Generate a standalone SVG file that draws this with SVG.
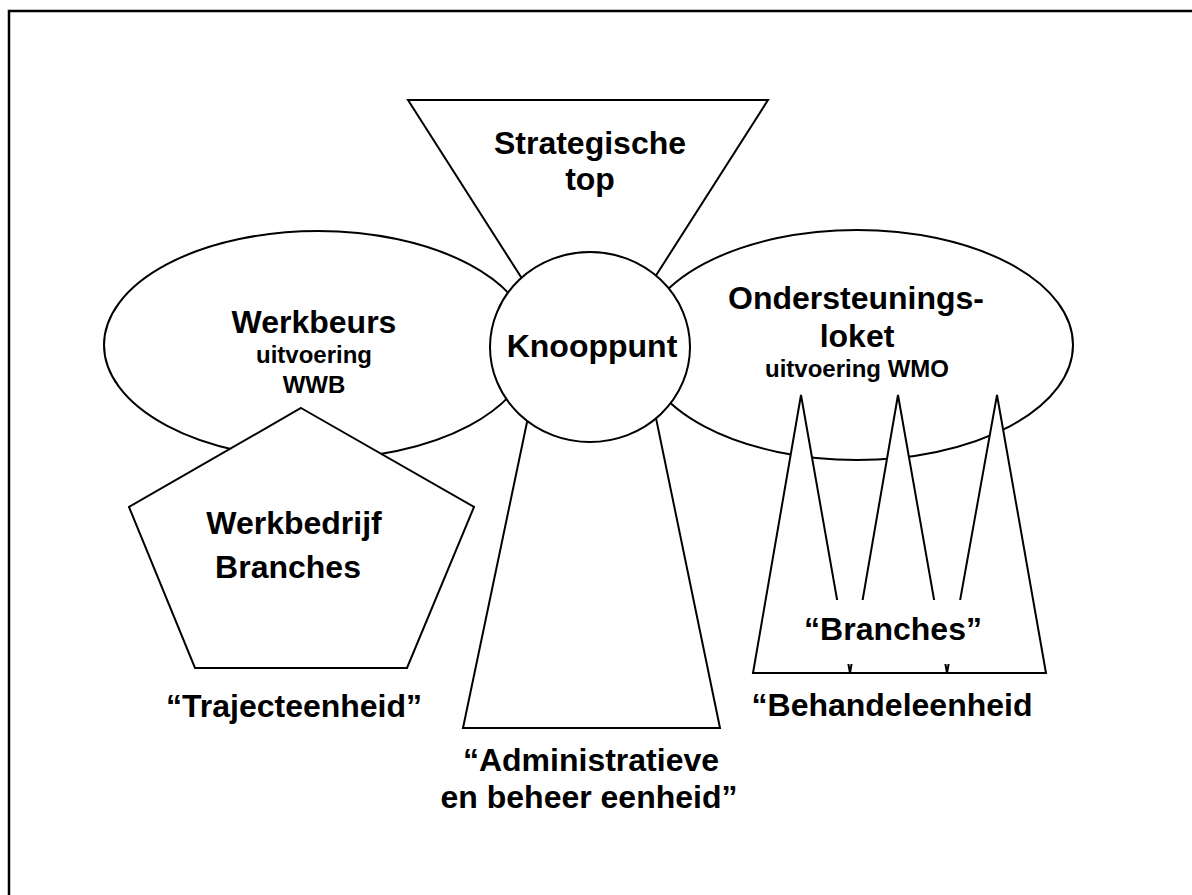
<svg xmlns="http://www.w3.org/2000/svg" width="1192" height="895" viewBox="0 0 1192 895">
  <style>
    .shape { fill: #ffffff; stroke: #000000; stroke-width: 2; stroke-linejoin: miter; }
    .big { font-family: "Liberation Sans", Arial, sans-serif; font-weight: bold; font-size: 32px; fill: #000000; text-anchor: middle; }
    .small { font-family: "Liberation Sans", Arial, sans-serif; font-weight: bold; font-size: 24px; fill: #000000; text-anchor: middle; }
  </style>

  <rect width="1192" height="895" fill="#ffffff"/>
  <!-- frame: only top and left edges fall inside the page -->
  <path d="M9,900 V11 H1200" fill="none" stroke="#000000" stroke-width="2.5"/>

  <g id="strategische-top">
    <polygon class="shape" points="408,100 768,100 588,382"/>
  </g>

  <g id="administratieve-eenheid">
    <polygon class="shape" points="540,360 644,360 720,728 463,728"/>
  </g>

  <g id="werkbeurs">
    <ellipse class="shape" cx="318" cy="345" rx="214" ry="114"/>
  </g>

  <g id="ondersteuningsloket">
    <ellipse class="shape" cx="857" cy="345" rx="216" ry="115"/>
  </g>

  <g id="knooppunt">
    <ellipse class="shape" cx="590" cy="347" rx="100" ry="95"/>
  </g>

  <g id="werkbedrijf">
    <polygon class="shape" points="301,408 474,507 407,668 195,668 129,507"/>
  </g>

  <g id="behandeleenheid">
    <polygon class="shape" points="801,395 850,673 753,673"/>
    <polygon class="shape" points="898,395 947,673 850,673"/>
    <polygon class="shape" points="997,395 1046,673 947,673"/>
    <!-- label backing hides where the branch outlines cross -->
    <rect x="800" y="600" width="200" height="64" fill="#ffffff"/>
  </g>

  <g id="labels">
    <text class="big" x="590" y="154">Strategische</text>
    <text class="big" x="590" y="190">top</text>

    <text class="big" x="314" y="333">Werkbeurs</text>
    <text class="small" x="314" y="363">uitvoering</text>
    <text class="small" x="314" y="393">WWB</text>

    <text class="big" x="592" y="357">Knooppunt</text>

    <text class="big" x="856" y="309">Ondersteunings-</text>
    <text class="big" x="857" y="347">loket</text>
    <text class="small" x="857" y="377">uitvoering WMO</text>

    <text class="big" x="294" y="534">Werkbedrijf</text>
    <text class="big" x="288" y="578">Branches</text>

    <text class="big" x="893" y="640">“Branches”</text>

    <text class="big" x="294" y="717">“Trajecteenheid”</text>
    <text class="big" x="892" y="716">“Behandeleenheid</text>

    <text class="big" x="591" y="771">“Administratieve</text>
    <text class="big" x="589" y="808">en beheer eenheid”</text>
  </g>
</svg>
